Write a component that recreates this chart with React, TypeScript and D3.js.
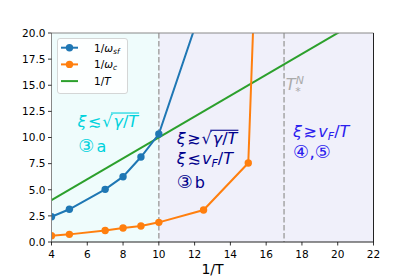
import React, { useLayoutEffect, useRef, useState } from "react";
import * as d3 from "d3";

// data
const invT = [4, 22];
const sfX = [4, 5, 7, 8, 9, 10, 12.5];
const sfY = [2.42, 3.13, 5.04, 6.25, 8.13, 10.33, 23];
const cX = [4, 5, 7, 8, 9, 10, 12.5, 15, 16];
const cY = [0.6, 0.73, 1.1, 1.34, 1.53, 1.88, 3.06, 7.56, 55];
const xTicks = [4, 6, 8, 10, 12, 14, 16, 18, 20, 22];
const yTicks = [0, 2.5, 5, 7.5, 10, 12.5, 15, 17.5, 20];
const regions = [
  { from: 4, to: 10, color: "#effcfc" },
  { from: 10, to: 22, color: "#f0f0fa" },
];
const dashedAt = [10, 17];

const W = 415;
const H = 277;
const L = 51.5;
const R = 373.5;
const T = 33;
const B = 242;

const FONT = "DejaVu Sans, sans-serif";
const FS = 16;

// text with a radical: the overline is measured after layout
const SqrtText = ({ x, y, fill, rel }: { x: number; y: number; fill: string; rel: string }) => {
  const ref = useRef<SVGTextElement>(null);
  const [bar, setBar] = useState<[number, number, number] | null>(null);
  useLayoutEffect(() => {
    const el = ref.current;
    if (!el) return;
    const n = el.getNumberOfChars();
    const start = el.getEndPositionOfChar(2).x;
    const end = el.getEndPositionOfChar(n - 1).x;
    const bb = el.getBBox();
    setBar([start - 1.5, end + 1, bb.y + 1.5]);
  }, [x, y, rel]);
  return (
    <g>
      <text ref={ref} x={x} y={y} fill={fill} fontSize={FS} fontFamily={FONT}>
        <tspan fontStyle="italic">ξ</tspan>
        <tspan dx={1.5}>{rel}</tspan>
        <tspan dx={1}>√</tspan>
        <tspan fontStyle="italic" dx={1}>γ</tspan>
        <tspan>/</tspan>
        <tspan fontStyle="italic">T</tspan>
      </text>
      {bar && <line x1={bar[0]} x2={bar[1]} y1={bar[2]} y2={bar[2]} stroke={fill} strokeWidth={1.1} />}
    </g>
  );
};

const VfText = ({ x, y, fill, rel }: { x: number; y: number; fill: string; rel: string }) => (
  <text x={x} y={y} fill={fill} fontSize={FS} fontFamily={FONT}>
    <tspan fontStyle="italic">ξ</tspan>
    <tspan dx={1.5}>{rel}</tspan>
    <tspan fontStyle="italic" dx={1.5}>v</tspan>
    <tspan fontStyle="italic" fontSize={11} dy={3}>F</tspan>
    <tspan dy={-3}>/</tspan>
    <tspan fontStyle="italic">T</tspan>
  </text>
);

const App = () => {
  const x = d3.scaleLinear().domain([4, 22]).range([L, R]);
  const y = d3.scaleLinear().domain([0, 20]).range([B, T]);

  const line = d3
    .line<[number, number]>()
    .x((d) => x(d[0]))
    .y((d) => y(d[1]));

  const sf = sfX.map((v, i) => [v, sfY[i]] as [number, number]);
  const c = cX.map((v, i) => [v, cY[i]] as [number, number]);
  const g = invT.map((v) => [v, v] as [number, number]);

  const blue = "#1f77b4";
  const orange = "#ff7f0e";
  const green = "#2ca02c";

  return (
    <svg width={W} height={H} style={{ position: "absolute", left: 0, top: 0 }}>
      <defs>
        <clipPath id="plot">
          <rect x={L} y={T} width={R - L} height={B - T} />
        </clipPath>
      </defs>
      <rect width={W} height={H} fill="#fff" />
      {regions.map((r, i) => (
        <rect key={i} x={x(r.from)} y={T} width={x(r.to) - x(r.from)} height={B - T} fill={r.color} />
      ))}
      {dashedAt.map((d) => (
        <line key={d} x1={x(d)} x2={x(d)} y1={T} y2={B} stroke="#aaa" strokeWidth={1.6} strokeDasharray="5.5,2.5" />
      ))}
      <g clipPath="url(#plot)">
        <path d={line(g)!} fill="none" stroke={green} strokeWidth={2} />
        <path d={line(sf)!} fill="none" stroke={blue} strokeWidth={2} />
        {sf.map((d, i) => (
          <circle key={i} cx={x(d[0])} cy={y(d[1])} r={3.7} fill={blue} />
        ))}
        <path d={line(c)!} fill="none" stroke={orange} strokeWidth={2} />
        {c.map((d, i) => (
          <circle key={i} cx={x(d[0])} cy={y(d[1])} r={3.7} fill={orange} />
        ))}
      </g>

      {/* annotations */}
      <SqrtText x={x(5.45)} y={y(11.05)} fill="#00d2dc" rel="≲" />
      <text x={x(5.5)} y={y(8.65)} fill="#00d2dc" fontSize={FS} fontFamily={FONT}>
        <tspan fontSize={18}>③</tspan>
        <tspan dx={2}>a</tspan>
      </text>

      <SqrtText x={x(11.0)} y={y(9.4)} fill="#00008b" rel="≳" />
      <VfText x={x(11.0)} y={y(7.5)} fill="#00008b" rel="≲" />
      <text x={x(11.0)} y={y(5.2)} fill="#00008b" fontSize={FS} fontFamily={FONT}>
        <tspan fontSize={18}>③</tspan>
        <tspan dx={2}>b</tspan>
      </text>

      <VfText x={x(17.5)} y={y(10.05)} fill="#2b20ee" rel="≳" />
      <text x={x(17.5)} y={y(8.0)} fill="#2b20ee" fontSize={18} fontFamily={FONT}>④,⑤</text>

      <text x={x(17.1)} y={y(14.55)} fill="#aaa" fontSize={FS} fontFamily={FONT}>
        <tspan fontStyle="italic">T</tspan>
        <tspan fontStyle="italic" fontSize={11} dy={-6}>N</tspan>
      </text>
      <text x={x(17.1) + 9.5} y={y(14.55) + 5.5} fill="#aaa" fontSize={11} fontFamily={FONT}>*</text>

      {/* spines */}
      <line x1={L} x2={R} y1={T} y2={T} stroke="#888" strokeWidth={1} />
      <line x1={L} x2={L} y1={T} y2={B} stroke="#888" strokeWidth={1} />
      <line x1={R} x2={R} y1={T} y2={B} stroke="#222" strokeWidth={1} />
      <line x1={L} x2={R} y1={B} y2={B} stroke="#222" strokeWidth={1} />

      {/* ticks */}
      {xTicks.map((t) => (
        <g key={t}>
          <line x1={x(t)} x2={x(t)} y1={B} y2={B + 3.5} stroke="#000" strokeWidth={0.8} />
          <text x={x(t)} y={B + 15.5} textAnchor="middle" fontSize={10.5} fontFamily={FONT}>{t}</text>
        </g>
      ))}
      {yTicks.map((t) => (
        <g key={t}>
          <line x1={L - 3.5} x2={L} y1={y(t)} y2={y(t)} stroke="#000" strokeWidth={0.8} />
          <text x={L - 6} y={y(t) + 3.8} textAnchor="end" fontSize={10.5} fontFamily={FONT}>{t.toFixed(1)}</text>
        </g>
      ))}
      <text x={(L + R) / 2} y={274} textAnchor="middle" fontSize={14} fontFamily={FONT}>1/T</text>

      {/* legend */}
      <g>
        <rect x={57.5} y={38.5} width={70} height={55} rx={2.5} fill="#fff" fillOpacity={0.85} stroke="#ccc" strokeWidth={0.8} />
        {[
          { color: blue, marker: true, label: ["1/", "ω", "sf"] },
          { color: orange, marker: true, label: ["1/", "ω", "c"] },
          { color: green, marker: false, label: ["1/", "T", ""] },
        ].map((e, i) => {
          const ly = 47.7 + i * 16.7;
          return (
            <g key={i}>
              <line x1={61} x2={78} y1={ly} y2={ly} stroke={e.color} strokeWidth={2} />
              {e.marker && <circle cx={69.5} cy={ly} r={3.7} fill={e.color} />}
              <text x={94} y={ly + 4} fontSize={10.5} fontFamily={FONT}>
                <tspan>{e.label[0]}</tspan>
                <tspan fontStyle="italic">{e.label[1]}</tspan>
                {e.label[2] && (
                  <tspan fontStyle="italic" fontSize={7.5} dy={2}>{e.label[2]}</tspan>
                )}
              </text>
            </g>
          );
        })}
      </g>
    </svg>
  );
};

export default App;
